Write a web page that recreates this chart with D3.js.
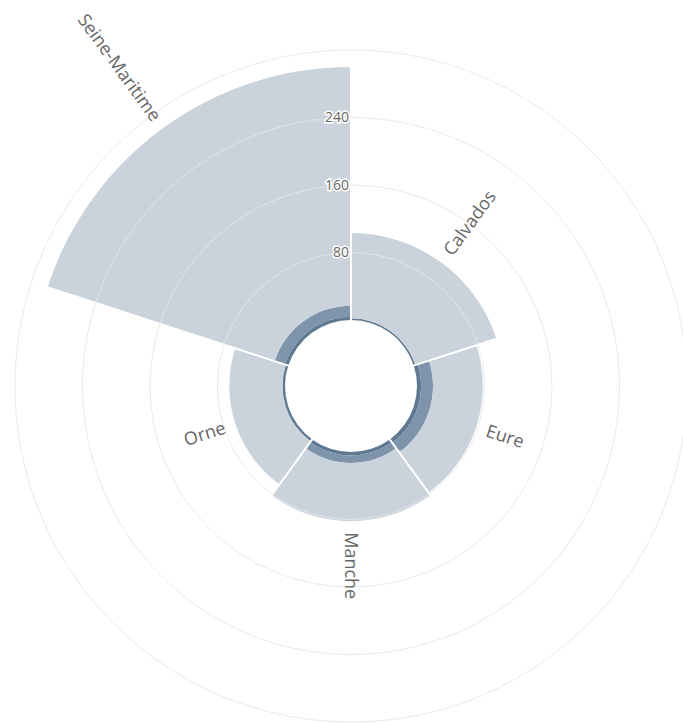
<!DOCTYPE html>
<html>
<head>
<meta charset="utf-8">
<script src="https://cdn.jsdelivr.net/npm/d3@7"></script>
<style>
  body { margin: 0; background: #fff; }
  svg text { font-family: "Open Sans", sans-serif; }
</style>
</head>
<body>
<div id="chart"></div>
<script>
"use strict";
const categories = ["Calvados", "Eure", "Manche", "Orne", "Seine-Maritime"];
// three stacked series, innermost first
const darkValues = [2, 5, 4, 3, 4];
const midValues = [0, 14, 9, 0, 13];
const lightValues = [101, 59, 69, 63, 283];
const tickValues = [80, 160, 240, 320];

const width = 683, height = 724;
const cx = 351, cy = 386;
const innerRadius = 66;

const rows = categories.map((c, i) => ({
    cat: c, dark: darkValues[i], mid: midValues[i], light: lightValues[i]
}));
const keys = ["dark", "mid", "light"];
const colors = { dark: "#5f7993", mid: "#7d94ab", light: "#cad3dc" };
const series = d3.stack().keys(keys)(rows);
const totals = categories.map((c, i) => darkValues[i] + midValues[i] + lightValues[i]);

const x = d3.scaleBand().domain(categories).range([0, 2 * Math.PI]).padding(0);
const y = d3.scaleLinear().domain([0, 320]).range([innerRadius, 336]);

const svg = d3.select("#chart").append("svg")
    .attr("width", width)
    .attr("height", height);
const g = svg.append("g").attr("transform", `translate(${cx},${cy})`);

const arc = d3.arc()
    .innerRadius(d => y(d[0]))
    .outerRadius(d => y(d[1]))
    .startAngle(d => x(d.data.cat))
    .endAngle(d => x(d.data.cat) + x.bandwidth());

// stacked bars
g.append("g").selectAll("g")
    .data(series)
    .join("g")
    .attr("fill", d => colors[d.key])
    .selectAll("path")
    .data(d => d.filter(p => p[1] > p[0]))
    .join("path")
    .attr("d", arc);

// white separators between neighbouring bars
g.append("g").selectAll("line")
    .data(categories)
    .join("line")
    .each(function (c, i) {
        const a = x(c);
        const prev = (i + totals.length - 1) % totals.length;
        const r = y(Math.max(totals[i], totals[prev])) + 1;
        d3.select(this)
            .attr("x1", (innerRadius - 1) * Math.sin(a))
            .attr("y1", -(innerRadius - 1) * Math.cos(a))
            .attr("x2", r * Math.sin(a))
            .attr("y2", -r * Math.cos(a));
    })
    .attr("stroke", "#fff")
    .attr("stroke-width", 2);

// grid circles drawn over the bars
g.append("g").selectAll("circle")
    .data(tickValues)
    .join("circle")
    .attr("r", d => y(d))
    .attr("fill", "none")
    .attr("stroke", "#e4e6e8")
    .attr("stroke-opacity", 0.85)
    .attr("stroke-width", 1);

// tick labels
g.append("g").selectAll("text")
    .data(tickValues.slice(0, 3))
    .join("text")
    .attr("x", -2)
    .attr("y", d => -y(d))
    .attr("dy", "0.35em")
    .attr("text-anchor", "end")
    .attr("font-size", 14)
    .attr("fill", "#666")
    .attr("stroke", "#fff")
    .attr("stroke-width", 3)
    .attr("paint-order", "stroke")
    .text(d => d);

// category labels, radial
g.append("g").selectAll("text")
    .data(categories)
    .join("text")
    .attr("transform", (c, i) => {
        const a = x(c) + x.bandwidth() / 2;
        const r = y(totals[i]) + 11;
        const deg = a * 180 / Math.PI;
        const rot = deg <= 180 ? deg - 90 : deg + 90;
        return `translate(${r * Math.sin(a)},${-r * Math.cos(a)}) rotate(${rot})`;
    })
    .attr("text-anchor", c => (x(c) + x.bandwidth() / 2) * 180 / Math.PI <= 180 ? "start" : "end")
    .attr("dy", "0.35em")
    .attr("font-size", 18)
    .attr("fill", "#666")
    .text(c => c);
</script>
</body>
</html>
